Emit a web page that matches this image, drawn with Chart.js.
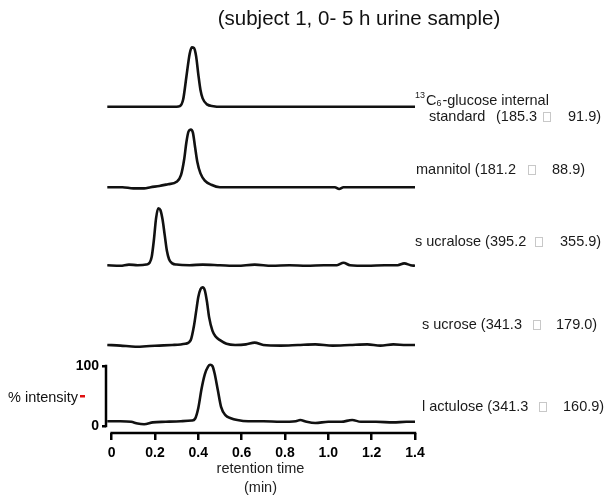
<!DOCTYPE html>
<html><head><meta charset="utf-8">
<script src="https://cdn.jsdelivr.net/npm/chart.js@4/dist/chart.umd.min.js"></script>
<style>html,body{margin:0;padding:0;background:#fff}#wrap{width:613px;height:504px}</style>
</head><body><div id="wrap"><canvas id="c" width="613" height="504"></canvas></div>
<script>
// ---- data (retention time in min, % intensity) ----
const xTicks = [0, 0.2, 0.4, 0.6, 0.8, 1.0, 1.2, 1.4];
const xTickLabels = ['0', '0.2', '0.4', '0.6', '0.8', '1.0', '1.2', '1.4'];
const yTicks = [0, 100];
const yTickLabels = ['0', '100'];

const glucoseT = [-0.02, 0.10, 0.20, 0.30, 0.315, 0.33, 0.345, 0.36, 0.37, 0.38, 0.39, 0.40, 0.41, 0.42, 0.44, 0.47, 0.50, 0.70, 0.90, 1.10, 1.30, 1.40];
const glucoseY = [8, 8, 8, 8, 9, 20, 58, 96, 107, 106, 92, 62, 36, 22, 12, 9, 8, 8, 8, 8, 8, 8];

const mannitolT = [-0.02, 0.05, 0.10, 0.15, 0.18, 0.22, 0.26, 0.30, 0.32, 0.335, 0.345, 0.355, 0.365, 0.375, 0.385, 0.395, 0.41, 0.43, 0.46, 0.50, 0.70, 0.90, 1.03, 1.05, 1.07, 1.20, 1.40];
const mannitolY = [5, 5, 3, 3, 5, 7, 10, 14, 25, 52, 80, 98, 101, 96, 72, 48, 28, 16, 9, 5, 5, 5, 5, 2, 5, 5, 5];

const sucraloseT = [-0.02, 0.04, 0.08, 0.12, 0.16, 0.175, 0.185, 0.195, 0.205, 0.215, 0.225, 0.235, 0.245, 0.255, 0.265, 0.28, 0.30, 0.36, 0.42, 0.50, 0.58, 0.66, 0.74, 0.82, 0.90, 0.98, 1.04, 1.07, 1.10, 1.18, 1.26, 1.32, 1.35, 1.38, 1.40];
const sucraloseY = [6, 5, 7, 6, 7, 10, 20, 48, 84, 101, 98, 82, 56, 30, 16, 9, 7, 6, 7, 6, 5, 7, 5, 6, 5, 6, 6, 10, 6, 5, 6, 6, 9, 6, 5];

const sucroseT = [-0.02, 0.04, 0.08, 0.12, 0.16, 0.22, 0.28, 0.34, 0.365, 0.38, 0.39, 0.40, 0.41, 0.42, 0.43, 0.44, 0.45, 0.465, 0.48, 0.50, 0.53, 0.57, 0.62, 0.66, 0.70, 0.78, 0.86, 0.94, 1.02, 1.10, 1.18, 1.24, 1.30, 1.36, 1.40];
const sucroseY = [4, 3, 2, 1, 2, 3, 4, 6, 12, 36, 60, 84, 97, 100, 95, 76, 50, 28, 18, 12, 6, 4, 5, 8, 4, 3, 4, 5, 3, 4, 5, 3, 5, 4, 4];

const lactuloseT = [-0.02, 0.04, 0.09, 0.12, 0.15, 0.19, 0.25, 0.32, 0.37, 0.385, 0.40, 0.415, 0.43, 0.445, 0.455, 0.465, 0.475, 0.49, 0.505, 0.525, 0.55, 0.58, 0.63, 0.70, 0.78, 0.85, 0.87, 0.90, 0.94, 1.00, 1.06, 1.11, 1.15, 1.22, 1.30, 1.36, 1.40];
const lactuloseY = [8, 8, 7, 4, 3, 6, 7, 8, 9, 12, 30, 62, 86, 99, 102, 100, 88, 60, 32, 18, 13, 10, 8, 8, 7, 8, 10, 7, 5, 7, 7, 10, 7, 7, 6, 7, 7];

const seriesT = [glucoseT, mannitolT, sucraloseT, sucroseT, lactuloseT];
const seriesY = [glucoseY, mannitolY, sucraloseY, sucroseY, lactuloseY];
const seriesNames = ['13C6-glucose internal standard', 'mannitol', 'sucralose', 'sucrose', 'lactulose'];

// ---- chart ----
const FONT = "'Liberation Sans', Arial, sans-serif";
const panelIds = ['y0', 'y1', 'y2', 'y3', 'y4'];

const datasets = seriesT.map((T, i) => ({
  label: seriesNames[i],
  yAxisID: panelIds[i],
  data: T.map((t, k) => ({ x: t, y: seriesY[i][k] })),
  borderColor: '#111',
  borderWidth: 2.6,
  pointRadius: 0,
  cubicInterpolationMode: 'monotone',
  fill: false
}));

const scales = {
  x: {
    type: 'linear', min: -0.026, max: 1.4,
    afterBuildTicks: s => { s.ticks = xTicks.map(v => ({ value: v })); },
    afterFit: s => { s.height = 64; },
    ticks: {
      callback: (v, i) => xTickLabels[i], autoSkip: false, maxRotation: 0,
      font: { family: FONT, size: 14, weight: 'bold' }, color: '#000', padding: 5
    },
    grid: { display: true, drawOnChartArea: false, drawTicks: true, tickLength: 7, color: '#000', lineWidth: 2.5 },
    border: { display: false },
    title: { display: true, text: ['retention time', '(min)'], font: { family: FONT, size: 14.5, lineHeight: 1.3 }, color: '#222', padding: { top: 1, bottom: 0 } }
  }
};
panelIds.forEach((id, i) => {
  const bottom = i === panelIds.length - 1;
  scales[id] = {
    type: 'linear', position: 'left', stack: 'panels', stackWeight: 1, weight: panelIds.length - i,
    min: -11.7, max: 119.3,
    afterBuildTicks: s => { s.ticks = yTicks.map(v => ({ value: v })); },
    afterFit: s => { s.width = 106; },
    ticks: {
      display: bottom, callback: (v, k) => yTickLabels[k],
      font: { family: FONT, size: 14, weight: 'bold' }, color: '#000', padding: 3
    },
    grid: { display: bottom, drawOnChartArea: false, drawTicks: true, tickLength: 4, color: '#000', lineWidth: 2.5 },
    border: { display: false }
  };
});

const labelsPlugin = {
  id: 'labels',
  afterDraw(chart) {
    const ctx = chart.ctx;
    const xs = chart.scales.x, yb = chart.scales.y4, ca = chart.chartArea;
    ctx.save();
    // axis lines
    ctx.strokeStyle = '#000'; ctx.lineWidth = 2.5; ctx.lineCap = 'butt';
    ctx.beginPath();
    ctx.moveTo(ca.left, yb.getPixelForValue(100) - 1.25);
    ctx.lineTo(ca.left, yb.getPixelForValue(0) + 1.25);
    ctx.stroke();
    ctx.beginPath();
    ctx.moveTo(xs.getPixelForValue(0) - 1.25, ca.bottom);
    ctx.lineTo(xs.getPixelForValue(1.4) + 1.25, ca.bottom);
    ctx.stroke();

    // title
    ctx.fillStyle = '#111';
    ctx.textBaseline = 'middle';
    ctx.textAlign = 'center';
    ctx.font = "20.5px " + FONT;
    ctx.fillText('(subject 1, 0- 5 h urine sample)', 359, 19);

    // y label
    ctx.textAlign = 'left';
    ctx.font = "14.5px " + FONT;
    ctx.fillText('% intensity', 8, 398);
    ctx.fillStyle = '#e01010';
    ctx.fillRect(80, 395, 5, 2.5);

    // right labels
    const F = "14.5px " + FONT;
    const box = (x, y) => {
      ctx.save();
      ctx.strokeStyle = '#c8c8c8'; ctx.lineWidth = 1;
      ctx.strokeRect(x - 3.5, y - 4.5, 7, 9);
      ctx.restore();
    };
    ctx.fillStyle = '#1a1a1a';
    // glucose
    ctx.font = "9px " + FONT; ctx.fillText('13', 415, 96);
    ctx.font = F; ctx.fillText('C', 426, 101);
    let w = ctx.measureText('C').width;
    ctx.font = "9px " + FONT; ctx.fillText('6', 426 + w, 104);
    let w2 = ctx.measureText('6').width;
    ctx.font = F; ctx.fillText('-glucose internal', 426 + w + w2 + 1, 101);
    ctx.fillText('standard', 429, 117);
    ctx.fillText('(185.3', 496, 117); box(547, 117); ctx.fillText('91.9)', 568, 117);
    // mannitol
    ctx.fillText('mannitol (181.2', 416, 170); box(532, 170); ctx.fillText('88.9)', 552, 170);
    // sucralose
    ctx.fillText('s ucralose (395.2', 415, 242); box(539, 242); ctx.fillText('355.9)', 560, 242);
    // sucrose
    ctx.fillText('s ucrose (341.3', 422, 325); box(537, 325); ctx.fillText('179.0)', 556, 325);
    // lactulose
    ctx.fillText('l actulose (341.3', 422, 407); box(543, 407); ctx.fillText('160.9)', 563, 407);
    ctx.restore();
  }
};

new Chart(document.getElementById('c'), {
  type: 'line',
  data: { datasets },
  options: {
    responsive: false, animation: false, devicePixelRatio: 1,
    layout: { padding: { left: 0, right: 198, top: 40, bottom: 7 } },
    plugins: { legend: { display: false }, tooltip: { enabled: false }, title: { display: false } },
    scales
  },
  plugins: [labelsPlugin]
});
</script>
</body></html>
